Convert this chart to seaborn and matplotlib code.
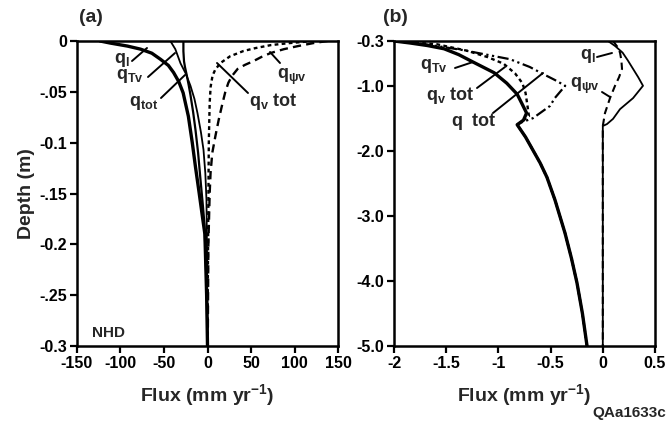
import numpy as np
import pandas as pd
import seaborn as sns
import matplotlib
matplotlib.use("Agg")
import matplotlib.pyplot as plt

# ---------------- data: panel (a), depth 0 to -0.3 m ----------------
a_ql_depth = [0.0, -0.002, -0.005, -0.008, -0.012, -0.018, -0.024, -0.031, -0.04, -0.051, -0.074, -0.10, -0.124, -0.15, -0.173, -0.19, -0.25, -0.3]
a_ql_flux = [-123.5, -112, -92, -77, -64, -54, -45, -39, -33, -28, -22, -17.5, -13.8, -9.5, -5.8, -3.0, -1.0, 0.0]

a_qTv_depth = [0.0, -0.008, -0.015, -0.022, -0.032, -0.044, -0.057, -0.071, -0.09, -0.107, -0.13, -0.156, -0.22, -0.3]
a_qTv_flux = [-42.7, -37, -34, -31, -25, -19.6, -15, -11.5, -7.5, -4.6, -2.5, -1.2, -0.4, 0.0]

a_qtot_depth = [0.0, -0.01, -0.02, -0.026, -0.033, -0.043, -0.053, -0.07, -0.0875, -0.11, -0.137, -0.16, -0.18, -0.24, -0.3]
a_qtot_flux = [-27.7, -27.7, -27.0, -25.8, -24, -21.7, -19.6, -16.5, -13.8, -10.8, -8, -5.5, -3.5, -1.0, 0.0]

a_qvtot_depth = [0.0, -0.002, -0.004, -0.007, -0.0098, -0.015, -0.0216, -0.028, -0.034, -0.045, -0.061, -0.08, -0.10, -0.16, -0.22, -0.3]
a_qvtot_flux = [122, 95, 73, 55, 41.5, 26, 15, 9, 5.8, 3.6, 2.5, 2.0, 1.5, 1.0, 0.5, 0.0]

a_qpsiv_depth = [0.0, -0.002, -0.005, -0.008, -0.0118, -0.0157, -0.0197, -0.0235, -0.0275, -0.034, -0.041, -0.05, -0.061, -0.077, -0.093, -0.11, -0.13, -0.15, -0.2, -0.3]
a_qpsiv_flux = [138, 122, 104, 88, 72.7, 62, 53, 43, 34.6, 28.5, 24, 20.5, 17.3, 13, 9.2, 5.5, 3.5, 2.5, 1.0, 0.3]

# ---------------- data: panel (b), depth -0.3 to -5 m ----------------
b_deep_depth = [-1.59, -1.78, -1.98, -2.18, -2.40, -2.75, -3.26, -3.65, -4.03, -4.5, -5.0]
b_deep_flux = [-0.82, -0.74, -0.67, -0.60, -0.535, -0.458, -0.362, -0.30, -0.247, -0.195, -0.151]

b_qTv_depth = [-0.3, -0.33, -0.37, -0.42, -0.51, -0.61, -0.70, -0.79, -0.95, -1.12, -1.28, -1.41, -1.52] + b_deep_depth
b_qTv_flux = [-2.0, -1.85, -1.68, -1.52, -1.38, -1.26, -1.15, -1.04, -0.92, -0.82, -0.77, -0.73, -0.76] + b_deep_flux

b_qvtot_depth = [-0.3, -0.35, -0.45, -0.55, -0.65, -0.80, -0.95, -1.10, -1.26, -1.46] + b_deep_depth
b_qvtot_flux = [-2.0, -1.59, -1.30, -1.10, -0.95, -0.84, -0.77, -0.74, -0.725, -0.707] + b_deep_flux

b_qtot_depth = [-0.3, -0.35, -0.44, -0.58, -0.70, -0.81, -0.90, -0.99, -1.18, -1.30, -1.49, -1.56] + b_deep_depth
b_qtot_flux = [-2.0, -1.7, -1.34, -0.89, -0.70, -0.57, -0.46, -0.36, -0.46, -0.505, -0.67, -0.79] + b_deep_flux

b_ql_depth = [-0.3, -0.38, -0.48, -0.60, -0.73, -0.86, -0.99, -1.18, -1.35, -1.50, -1.58, -1.61, -5.0]
b_ql_flux = [0.05, 0.12, 0.19, 0.24, 0.29, 0.34, 0.385, 0.29, 0.165, 0.098, 0.04, 0.0, 0.0]

b_qpsiv_depth = [-0.3, -0.39, -0.48, -0.60, -0.73, -0.86, -0.99, -1.18, -1.41, -1.61, -5.0]
b_qpsiv_flux = [0.098, 0.14, 0.165, 0.178, 0.184, 0.155, 0.117, 0.069, 0.021, 0.0, 0.0]

a_xticks = [-150, -100, -50, 0, 50, 100, 150]
a_yticks = [0, -0.05, -0.1, -0.15, -0.2, -0.25, -0.3]
a_yticklabels = ["0", "-.05", "-0.1", "-.15", "-0.2", "-.25", "-0.3"]
b_xticks = [-2, -1.5, -1, -0.5, 0, 0.5]
b_xticklabels = ["-2", "-1.5", "-1", "-0.5", "0", "0.5"]
b_yticks = [-0.3, -1, -2, -3, -4, -5]
b_yticklabels = ["-0.3", "-1.0", "-2.0", "-3.0", "-4.0", "-5.0"]

# ---------------- style ----------------
sns.set_theme(style="ticks")
plt.rcParams["font.family"] = ["Liberation Sans", "DejaVu Sans"]
plt.rcParams["font.weight"] = "bold"
plt.rcParams["mathtext.fontset"] = "custom"
plt.rcParams["mathtext.rm"] = "Liberation Sans:bold"
plt.rcParams["mathtext.it"] = "Liberation Sans:bold"
plt.rcParams["mathtext.bf"] = "Liberation Sans:bold"
plt.rcParams["mathtext.sf"] = "Liberation Sans:bold"

fig = plt.figure(figsize=(6.71, 4.29), dpi=100)
W, H = 671.0, 429.0
axa = fig.add_axes([77 / W, 1 - 346 / H, 261 / W, 305 / H])
axb = fig.add_axes([394 / W, 1 - 346 / H, 261 / W, 305 / H])

K = "black"


def draw(ax, x, y, lw, ls):
    df = pd.DataFrame({"flux": x, "depth": y})
    sns.lineplot(data=df, x="flux", y="depth", sort=False, estimator=None,
                 ax=ax, color=K, lw=lw, linestyle=ls)


dotted = (0, (1.6, 1.4))
dashed = (0, (3.5, 2.2))
dashdot2 = (0, (5, 1.6, 1, 1.6, 1, 1.6))

# panel a
draw(axa, a_ql_flux, a_ql_depth, 2.4, "-")
draw(axa, a_qTv_flux, a_qTv_depth, 1.3, "-")
draw(axa, a_qtot_flux, a_qtot_depth, 1.6, "-")
draw(axa, a_qvtot_flux, a_qvtot_depth, 1.7, dotted)
draw(axa, a_qpsiv_flux, a_qpsiv_depth, 1.7, dashed)

# panel b
draw(axb, b_qtot_flux, b_qtot_depth, 1.6, dashdot2)
draw(axb, b_qvtot_flux, b_qvtot_depth, 1.7, dotted)
draw(axb, b_qTv_flux, b_qTv_depth, 2.4, "-")
draw(axb, b_ql_flux, b_ql_depth, 1.3, "-")
draw(axb, b_qpsiv_flux, b_qpsiv_depth, 1.5, dashed)

tick_fs = 11.5
for ax in (axa, axb):
    for s in ax.spines.values():
        s.set_linewidth(1.8)
        s.set_color(K)
    ax.tick_params(direction="out", length=5, width=1.6, colors=K,
                   labelsize=tick_fs, pad=2)
    ax.set_xlabel("Flux (mm yr$^{-1}$)", fontsize=14, fontweight="bold", labelpad=8)
    ax.set_ylabel("")

axa.set_xlim(-150, 150)
axa.set_ylim(-0.3, 0)
axa.set_xticks(a_xticks)
axa.set_xticklabels([str(t) for t in a_xticks])
axa.set_yticks(a_yticks)
axa.set_yticklabels(a_yticklabels)
axa.set_ylabel("Depth (m)", fontsize=14, fontweight="bold", labelpad=3)

axb.set_xlim(-2, 0.5)
axb.set_ylim(-5, -0.3)
axb.set_xticks(b_xticks)
axb.set_xticklabels(b_xticklabels)
axb.set_yticks(b_yticks)
axb.set_yticklabels(b_yticklabels)

for lab in axa.get_xticklabels() + axa.get_yticklabels() + axb.get_xticklabels() + axb.get_yticklabels():
    lab.set_fontweight("bold")

# label helpers: pixel -> data for each panel
def pa(px, py):
    return ((px - 207.5) * 300 / 261.0, -(py - 41) * 0.3 / 305.0)


def pb(px, py):
    return (-2 + (px - 394) * 2.5 / 261.0, -0.3 - (py - 41) * 4.7 / 305.0)


def leader(ax, conv, p0, p1):
    ax.annotate("", xy=conv(*p1), xytext=conv(*p0),
                arrowprops=dict(arrowstyle="-", lw=1.4, color=K,
                                shrinkA=0, shrinkB=0))


lfs = 13
# panel (a) labels
axa.text(*pa(114, 60), r"$\mathrm{q_l}$", fontsize=lfs, ha="left", va="center")
leader(axa, pa, (132, 61), (147, 48))
axa.text(*pa(116, 76), r"$\mathrm{q_{Tv}}$", fontsize=lfs, ha="left", va="center")
leader(axa, pa, (148, 77), (175, 53))
axa.text(*pa(129, 103), r"$\mathrm{q_{tot}}$", fontsize=lfs, ha="left", va="center")
leader(axa, pa, (161, 98), (185, 75))
axa.text(*pa(249, 101), r"$\mathrm{q_v}$ tot", fontsize=lfs, ha="left", va="center")
leader(axa, pa, (248, 93), (217, 63))
axa.text(*pa(277, 77), r"$\mathrm{q_{\psi v}}$", fontsize=lfs, ha="left", va="center")
leader(axa, pa, (280, 63), (270, 52))
axa.text(0.058, 0.02, "NHD", transform=axa.transAxes, fontsize=11,
         fontweight="bold", ha="left", va="bottom")

# panel (b) labels
axb.text(*pb(420, 66), r"$\mathrm{q_{Tv}}$", fontsize=lfs, ha="left", va="center")
leader(axb, pb, (455, 68), (473, 62))
axb.text(*pb(426, 96), r"$\mathrm{q_v}$ tot", fontsize=lfs, ha="left", va="center")
leader(axb, pb, (477, 88), (505, 67))
axb.text(*pb(451, 121), r"$\mathrm{q}$  tot", fontsize=lfs, ha="left", va="center")
leader(axb, pb, (493, 113), (543, 73))
axb.text(*pb(580, 56), r"$\mathrm{q_l}$", fontsize=lfs, ha="left", va="center")
leader(axb, pb, (597, 57), (612, 53))
axb.text(*pb(570, 86), r"$\mathrm{q_{\psi v}}$", fontsize=lfs, ha="left", va="center")
leader(axb, pb, (602, 92), (610, 97))

fig.text(79 / W, 1 - 18 / H, "(a)", fontsize=14, fontweight="bold", ha="left", va="center")
fig.text(383 / W, 1 - 18 / H, "(b)", fontsize=14, fontweight="bold", ha="left", va="center")
fig.text(666 / W, 1 - 413 / H, "QAa1633c", fontsize=11, fontweight="bold", ha="right", va="center")

fig.savefig("out.png", dpi=100, facecolor="white")
